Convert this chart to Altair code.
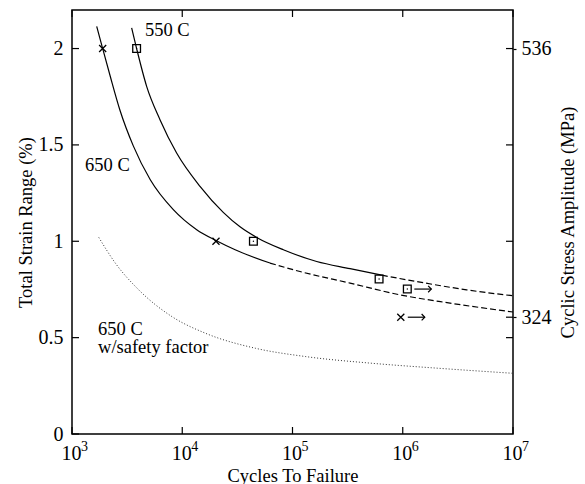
import altair as alt
import pandas as pd

# ---- curves (cycles, total strain range %) ----
c550_solid_x = [3475, 3855, 4753, 6281, 8892, 14490, 23550, 33420, 47320, 82600, 165600, 332700, 645700]
c550_solid_y = [2.107, 2.0, 1.804, 1.631, 1.458, 1.285, 1.15, 1.075, 1.02, 0.956, 0.895, 0.858, 0.824]
c550_dash_x = [645700, 1337000, 3793000, 10000000]
c550_dash_y = [0.824, 0.791, 0.748, 0.717]
c650_solid_x = [1675, 1897, 2213, 2723, 3597, 5129, 8299, 13520, 20230, 30200, 62520]
c650_solid_y = [2.115, 2.0, 1.86, 1.68, 1.495, 1.319, 1.164, 1.06, 1.004, 0.956, 0.887]
c650_dash_x = [62520, 116900, 332700, 944100, 2685000, 10000000]
c650_dash_y = [0.887, 0.843, 0.783, 0.722, 0.679, 0.633]
safety_x = [1750, 2470, 4030, 8070, 16200, 46000, 130600, 526000, 2120000, 10000000]
safety_y = [1.02, 0.887, 0.748, 0.609, 0.523, 0.445, 0.402, 0.367, 0.341, 0.315]

# ---- test points ----
x650_x = [1897, 20230, 960000]
x650_y = [2.0, 1.0, 0.606]
sq550_x = [3855, 44200, 610000, 1100000]
sq550_y = [2.0, 1.0, 0.804, 0.752]
runout_x = [960000, 1100000]
runout_y = [0.606, 0.752]

# ---- labels ----
note_x = [4590, 1313, 1722, 1722]
note_y = [2.095, 1.397, 0.545, 0.45]
note_text = ["550 C", "650 C", "650 C", "w/safety factor"]

x_tick_values = [1000, 10000, 100000, 1000000, 10000000]
x_tick_base = "10"
x_tick_exponents = ["3", "4", "5", "6", "7"]
y_tick_values = [0, 0.5, 1, 1.5, 2]
right_tick_values = [0.5, 0.606, 1.0, 1.5, 2.0]
right_label_values = [0.606, 2.0]
right_label_text = ["324", "536"]

W, H = 441, 424
FONT = "Liberation Serif"

r_expr = " : ".join(
    f"abs(datum.value - {v}) < 0.001 ? '{t}'" for v, t in zip(right_label_values, right_label_text)
) + " : ''"

X = alt.X(
    "x:Q",
    scale=alt.Scale(type="log", domain=[1000, 10000000], nice=False),
    axis=alt.Axis(
        values=x_tick_values, labelExpr=f"'{x_tick_base}'", title="Cycles To Failure",
        ticks=False, domain=False, grid=False, labelPadding=9, titlePadding=3,
        labelFontSize=20, titleFontSize=18.5, labelFlush=False,
        labelAlign="left", labelOffset=-11,
    ),
)
Y = alt.Y(
    "y:Q",
    scale=alt.Scale(domain=[0, 2.2], nice=False, zero=False),
    axis=alt.Axis(
        values=y_tick_values, labelExpr="datum.value + ''", title="Total Strain Range (%)",
        ticks=False, domain=False, grid=False, labelPadding=9, titlePadding=3,
        labelFontSize=20, titleFontSize=18.5, labelFlush=False,
    ),
)


def frame(xs, ys):
    return pd.DataFrame({"x": xs, "y": ys})


def line(xs, ys, dash, width=1.2, color="black"):
    kw = dict(color=color, strokeWidth=width, interpolate="monotone")
    if dash:
        kw["strokeDash"] = dash
    return alt.Chart(frame(xs, ys)).mark_line(**kw).encode(x=X, y=Y)


lines = [
    line(c550_solid_x, c550_solid_y, None),
    line(c550_dash_x, c550_dash_y, [6, 3]),
    line(c650_solid_x, c650_solid_y, None),
    line(c650_dash_x, c650_dash_y, [6, 3]),
    line(safety_x, safety_y, [1, 2], width=1.0, color="#333333"),
]

squares = alt.Chart(frame(sq550_x, sq550_y)).mark_point(
    shape="square", size=60, filled=False, color="black", strokeWidth=1.3, opacity=1
).encode(x=X, y=Y)
sq_dots = alt.Chart(frame(sq550_x, sq550_y)).mark_point(
    shape="circle", size=2, filled=True, color="black", opacity=1
).encode(x=X, y=Y)
crosses = alt.Chart(frame(x650_x, x650_y)).mark_point(
    shape="M-1,-1L1,1M-1,1L1,-1", size=50, filled=False, color="black", strokeWidth=1.3, opacity=1
).encode(x=X, y=Y)

# run-out arrows
arrow_shafts = alt.Chart(frame(runout_x, runout_y)).mark_rule(
    color="black", strokeWidth=1.2, xOffset=7, x2Offset=24
).encode(x=X, x2="x:Q", y=Y)
arrow_heads = alt.Chart(frame(runout_x, runout_y)).mark_point(
    shape="M-1,-1L0,0L-1,1", size=40, filled=False, color="black", strokeWidth=1.2,
    opacity=1, xOffset=24
).encode(x=X, y=Y)

notes_df = pd.DataFrame({"x": note_x, "y": note_y, "t": note_text})
notes = alt.Chart(notes_df).mark_text(
    align="left", baseline="middle", font=FONT, fontSize=18.5, color="black"
).encode(x=X, y=Y, text="t:N")

# exponents of the x tick labels
exp_df = pd.DataFrame({"x": x_tick_values, "e": x_tick_exponents})
exponents = alt.Chart(exp_df).mark_text(
    align="left", baseline="alphabetic", font=FONT, fontSize=14, color="black", dx=9
).encode(x=X, y=alt.value(H + 17), text="e:N")

# inward ticks
xt = pd.DataFrame({"x": x_tick_values})
yt = pd.DataFrame({"y": y_tick_values})
bottom_ticks = alt.Chart(xt).mark_rule(color="black", strokeWidth=1.2).encode(
    x=X, y=alt.value(H), y2=alt.value(H - 7))
top_ticks = alt.Chart(xt).mark_rule(color="black", strokeWidth=1.2).encode(
    x=X, y=alt.value(0), y2=alt.value(7))
left_ticks = alt.Chart(yt).mark_rule(color="black", strokeWidth=1.2).encode(
    y=Y, x=alt.value(0), x2=alt.value(7))

main = alt.layer(*lines, squares, sq_dots, crosses, arrow_shafts, arrow_heads, notes,
                 exponents, bottom_ticks, top_ticks, left_ticks)

rt = pd.DataFrame({"r": right_tick_values})
right = alt.Chart(rt).mark_rule(color="black", strokeWidth=1.2).encode(
    y=alt.Y(
        "r:Q",
        scale=alt.Scale(domain=[0, 2.2], nice=False, zero=False),
        axis=alt.Axis(
            orient="right", values=right_label_values, labelExpr=r_expr,
            title="Cyclic Stress Amplitude (MPa)", ticks=True, tickSize=3,
            tickColor="black", tickWidth=1.2, domain=False, grid=False,
            labelPadding=5, titlePadding=7, titleAngle=270, titleBaseline="top",
            labelFontSize=20, titleFontSize=18.5, labelFlush=False,
        ),
    ),
    x=alt.value(W - 7), x2=alt.value(W),
)

chart = (
    alt.layer(main, right)
    .resolve_scale(y="independent")
    .properties(
        width=W, height=H,
        autosize=alt.AutoSizeParams(type="none"),
        padding={"left": 72, "top": 10, "right": 72, "bottom": 50},
        background="white",
    )
    .configure_view(stroke="black", strokeWidth=1.5)
    .configure_axis(
        labelFont=FONT, titleFont=FONT, labelColor="black", titleColor="black",
        titleFontWeight="normal",
    )
)

chart.save("out.html", embed_options={"renderer": "svg", "actions": False})
